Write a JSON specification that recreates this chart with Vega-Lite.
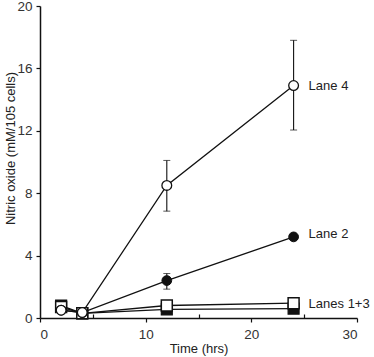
{
  "$schema": "https://vega.github.io/schema/vega-lite/v6.json",
  "width": 317,
  "height": 312,
  "autosize": {"type": "none"},
  "padding": {"left": 40, "top": 6, "right": 17, "bottom": 39},
  "background": "white",
  "config": {
    "view": {"stroke": null},
    "font": "Liberation Sans",
    "axis": {
      "domainColor": "#111",
      "domainWidth": 1.5,
      "tickColor": "#111",
      "tickWidth": 1.2,
      "labelFont": "Liberation Sans",
      "labelFontSize": 13.5,
      "labelColor": "#333",
      "titleFont": "Liberation Sans",
      "titleFontSize": 13,
      "titleFontWeight": "normal",
      "titleColor": "#222",
      "grid": false
    }
  },
  "datasets": {
    "pts": [
      {"series": "Lane 1", "time": 2, "no": 0.8},
      {"series": "Lane 1", "time": 4, "no": 0.3},
      {"series": "Lane 1", "time": 12, "no": 0.55},
      {"series": "Lane 1", "time": 24, "no": 0.6},
      {"series": "Lane 3", "time": 2, "no": 0.7},
      {"series": "Lane 3", "time": 4, "no": 0.3},
      {"series": "Lane 3", "time": 12, "no": 0.8},
      {"series": "Lane 3", "time": 24, "no": 0.95},
      {"series": "Lane 2", "time": 2, "no": 0.5},
      {"series": "Lane 2", "time": 4, "no": 0.35},
      {"series": "Lane 2", "time": 12, "no": 2.4},
      {"series": "Lane 2", "time": 24, "no": 5.2},
      {"series": "Lane 4", "time": 2, "no": 0.5},
      {"series": "Lane 4", "time": 4, "no": 0.35},
      {"series": "Lane 4", "time": 12, "no": 8.5},
      {"series": "Lane 4", "time": 24, "no": 14.9}
    ],
    "err": [
      {"series": "Lane 2", "time": 12, "lo": 1.85, "hi": 2.85},
      {"series": "Lane 4", "time": 12, "lo": 6.85, "hi": 10.1},
      {"series": "Lane 4", "time": 24, "lo": 12.05, "hi": 17.8}
    ],
    "labels": [
      {"label": "Lane 4", "time": 24, "no": 14.9},
      {"label": "Lane 2", "time": 24, "no": 5.4},
      {"label": "Lanes 1+3", "time": 24, "no": 0.9}
    ]
  },
  "encoding": {
    "x": {
      "field": "time", "type": "quantitative",
      "scale": {"domain": [0, 30], "nice": false},
      "axis": {
        "title": "Time (hrs)",
        "values": [0, 5, 10, 15, 20, 25, 30],
        "labelExpr": "datum.value % 10 === 0 ? datum.label : ''",
        "tickSize": {"condition": {"test": "datum.value % 10 === 0", "value": 4}, "value": -4},
        "labelPadding": 5,
        "titlePadding": 2
      }
    }
  },
  "layer": [
    {
      "data": {"name": "pts"},
      "mark": {"type": "line", "color": "#111", "strokeWidth": 1.3},
      "encoding": {
        "y": {
          "field": "no", "type": "quantitative",
          "title": "Nitric oxide (mM/105 cells)",
          "scale": {"domain": [0, 20], "nice": false},
          "axis": {
            "title": "Nitric oxide (mM/105 cells)",
            "values": [0, 2, 4, 6, 8, 10, 12, 14, 16, 18, 20],
            "labelExpr": "datum.value % 4 === 0 ? datum.label : ''",
            "tickSize": {"condition": {"test": "datum.value % 4 === 0", "value": 4}, "value": -4},
            "labelPadding": 4,
            "titleX": -30,
            "titleY": 142,
            "titleBaseline": "middle",
            "titleAlign": "center",
            "titleAngle": -90
          }
        },
        "detail": {"field": "series"}
      }
    },
    {
      "data": {"name": "err"},
      "mark": {"type": "errorbar", "ticks": {"size": 7, "color": "#111"}, "rule": {"color": "#111", "strokeWidth": 1.1}},
      "encoding": {
        "y": {"field": "lo", "type": "quantitative", "title": "Nitric oxide (mM/105 cells)"},
        "y2": {"field": "hi"}
      }
    },
    {
      "data": {"name": "pts"},
      "transform": [{"filter": "datum.series === 'Lane 1'"}],
      "mark": {"type": "square", "size": 120, "fill": "#111", "stroke": "#111", "strokeWidth": 1.2, "opacity": 1},
      "encoding": {"y": {"field": "no", "type": "quantitative", "title": "Nitric oxide (mM/105 cells)"}}
    },
    {
      "data": {"name": "pts"},
      "transform": [{"filter": "datum.series === 'Lane 3'"}],
      "mark": {"type": "square", "size": 120, "fill": "white", "stroke": "#111", "strokeWidth": 1.5, "opacity": 1},
      "encoding": {"y": {"field": "no", "type": "quantitative", "title": "Nitric oxide (mM/105 cells)"}}
    },
    {
      "data": {"name": "pts"},
      "transform": [{"filter": "datum.series === 'Lane 2'"}],
      "mark": {"type": "circle", "size": 95, "fill": "#111", "stroke": "#111", "strokeWidth": 1, "opacity": 1},
      "encoding": {"y": {"field": "no", "type": "quantitative", "title": "Nitric oxide (mM/105 cells)"}}
    },
    {
      "data": {"name": "pts"},
      "transform": [{"filter": "datum.series === 'Lane 4'"}],
      "mark": {"type": "circle", "size": 95, "fill": "white", "stroke": "#111", "strokeWidth": 1.3, "opacity": 1},
      "encoding": {"y": {"field": "no", "type": "quantitative", "title": "Nitric oxide (mM/105 cells)"}}
    },
    {
      "data": {"name": "labels"},
      "mark": {"type": "text", "align": "left", "baseline": "middle", "dx": 15, "fontSize": 13, "color": "#222", "font": "Liberation Sans"},
      "encoding": {
        "y": {"field": "no", "type": "quantitative", "title": "Nitric oxide (mM/105 cells)"},
        "text": {"field": "label"}
      }
    }
  ]
}
